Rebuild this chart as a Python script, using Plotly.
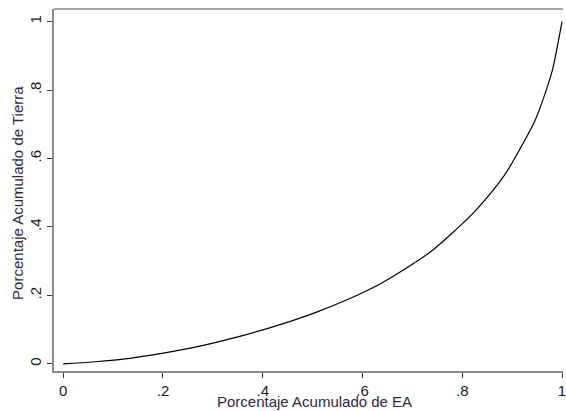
import plotly.graph_objects as go

# Lorenz curve
ea_cum = [0, 0.063, 0.116, 0.195, 0.281, 0.354, 0.438, 0.504, 0.570, 0.637,
          0.703, 0.736, 0.785, 0.828, 0.884, 0.918, 0.945, 0.964, 0.981, 0.991, 1.0]
tierra_cum = [0, 0.006, 0.013, 0.030, 0.054, 0.080, 0.116, 0.149, 0.188, 0.235,
              0.294, 0.327, 0.389, 0.450, 0.550, 0.634, 0.708, 0.781, 0.860, 0.930, 1.0]

tick_vals = [0, 0.2, 0.4, 0.6, 0.8, 1]
tick_text = ["0", ".2", ".4", ".6", ".8", "1"]

x_title = "Porcentaje Acumulado de EA"
y_title = "Porcentaje Acumulado de Tierra"

FONT = "Liberation Sans, Arial, sans-serif"
AXIS_GRAY = "#8a8a8a"
TITLE_COLOR = "#2e2946"

fig = go.Figure()
fig.add_trace(go.Scatter(
    x=ea_cum, y=tierra_cum, mode="lines",
    line=dict(color="black", width=1.2, shape="spline", smoothing=1.0),
    showlegend=False, hoverinfo="skip",
))

fig.update_layout(
    width=566, height=411,
    margin=dict(l=54, r=0, t=9, b=40),
    paper_bgcolor="white", plot_bgcolor="white",
    font=dict(family=FONT, size=15, color="#1a1a1a"),
    xaxis=dict(
        range=[-0.0185, 1.002], tickvals=tick_vals, ticktext=tick_text,
        ticks="outside", ticklen=5, tickwidth=1, tickcolor="#333",
        ticklabeloverflow="allow",
        showline=True, linecolor=AXIS_GRAY, linewidth=1.5,
        showgrid=False, zeroline=False, tickfont=dict(size=15, color="#1a1a1a"),
    ),
    yaxis=dict(
        range=[-0.021, 1.037], tickvals=tick_vals, ticktext=tick_text,
        ticks="outside", ticklen=5, tickwidth=1, tickcolor="#333",
        tickangle=-90,
        showline=True, linecolor=AXIS_GRAY, linewidth=1.5,
        showgrid=False, zeroline=False, tickfont=dict(size=15, color="#1a1a1a"),
    ),
    shapes=[dict(type="line", xref="paper", yref="paper", x0=0, x1=1, y0=1, y1=1,
                 line=dict(color=AXIS_GRAY, width=1.5))],
    annotations=[
        dict(text=x_title, xref="paper", yref="paper", x=0.512, y=-0.083,
             xanchor="center", yanchor="middle", showarrow=False,
             font=dict(size=15, color=TITLE_COLOR)),
        dict(text=y_title, xref="paper", yref="paper", x=-0.072, y=0.493,
             xanchor="center", yanchor="middle", showarrow=False, textangle=-90,
             font=dict(size=15, color=TITLE_COLOR)),
    ],
)

fig.write_html("out.html", config={"displayModeBar": False},
               post_script="document.body.style.margin='0';document.body.style.overflow='hidden';")
